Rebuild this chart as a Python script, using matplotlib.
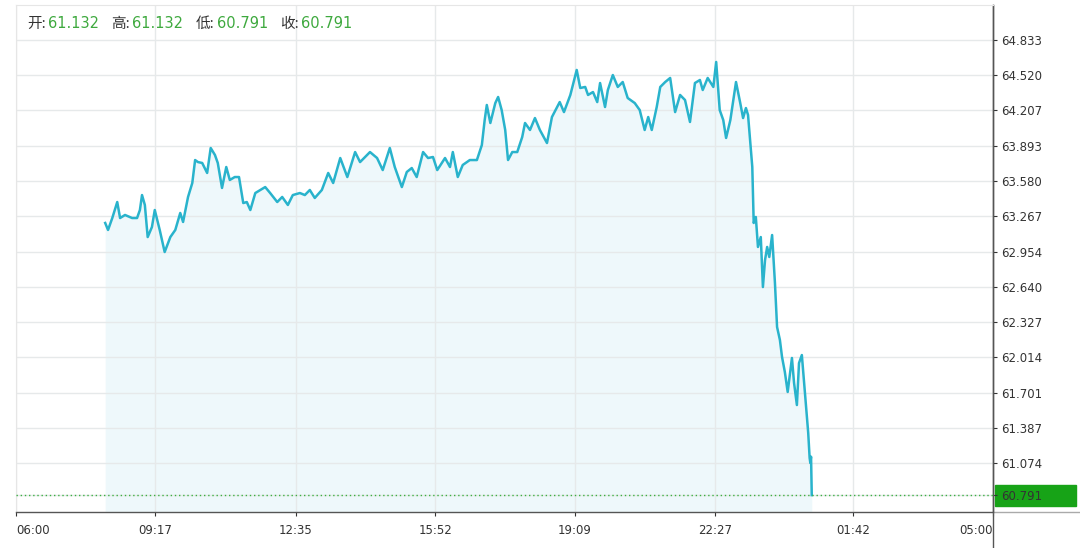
import numpy as np
import matplotlib
matplotlib.use("Agg")
import matplotlib.pyplot as plt
from matplotlib.patches import Rectangle
import matplotlib.transforms as mtransforms

plt.rcParams["font.family"] = ["DejaVu Sans", "Noto Sans CJK SC"]

# 分时数据：距 06:00 的分钟数, 价格
minutes = [
    126, 130, 136, 143, 147, 154, 164, 171, 175, 178, 182, 186, 192, 196, 203,
    210, 218, 225, 232, 236, 243, 249, 253, 257, 263, 270, 275, 281, 285, 291,
    297, 302, 309, 315, 321, 326, 331, 338, 345, 352, 359, 369, 376, 384, 391,
    401, 408, 415, 422, 432, 441, 448, 458, 468, 479, 486, 493, 500, 510, 518,
    528, 535, 545, 552, 559, 566, 575, 582, 589, 595, 606, 613, 617, 624, 631,
    641, 651, 658, 662, 665, 670, 677, 681, 686, 691, 695, 701, 708, 715, 719,
    726, 733, 740, 750, 757, 768, 774, 783, 792, 797, 804, 808, 815, 821, 825,
    832, 836, 843, 850, 857, 864, 874, 881, 888, 893, 898, 905, 910, 917, 924,
    931, 938, 945, 952, 959, 966, 970, 977, 985, 989, 994, 999, 1003, 1009, 1017,
    1023, 1027, 1031, 1034, 1040, 1042, 1045, 1048, 1052, 1055, 1058, 1061, 1064,
    1068, 1072, 1075, 1079, 1082, 1086, 1090, 1096, 1099, 1103, 1106, 1110, 1114,
    1119, 1121, 1122, 1123, 1124,
]
prices = [
    63.208, 63.146, 63.252, 63.394, 63.252, 63.279, 63.252, 63.252, 63.323, 63.456,
    63.368, 63.083, 63.172, 63.323, 63.146, 62.950, 63.083, 63.146, 63.297, 63.217,
    63.439, 63.563, 63.767, 63.749, 63.741, 63.652, 63.874, 63.812, 63.741, 63.519,
    63.705, 63.590, 63.616, 63.616, 63.385, 63.394, 63.323, 63.474, 63.501, 63.527,
    63.474, 63.394, 63.439, 63.368, 63.456, 63.474, 63.456, 63.501, 63.430, 63.501,
    63.652, 63.563, 63.785, 63.616, 63.838, 63.749, 63.794, 63.838, 63.785, 63.678,
    63.874, 63.705, 63.527, 63.661, 63.696, 63.616, 63.838, 63.785, 63.794, 63.678,
    63.785, 63.705, 63.838, 63.616, 63.723, 63.767, 63.767, 63.900, 64.122, 64.256,
    64.096, 64.273, 64.327, 64.211, 64.034, 63.767, 63.838, 63.838, 63.971, 64.096,
    64.034, 64.140, 64.034, 63.918, 64.149, 64.282, 64.193, 64.345, 64.567, 64.407,
    64.416, 64.345, 64.371, 64.282, 64.451, 64.238, 64.389, 64.522, 64.416, 64.460,
    64.318, 64.273, 64.211, 64.034, 64.149, 64.034, 64.238, 64.416, 64.460, 64.496,
    64.193, 64.345, 64.300, 64.105, 64.451, 64.478, 64.389, 64.496, 64.416, 64.638,
    64.211, 64.122, 63.963, 64.122, 64.460, 64.273, 64.140, 64.229, 64.167, 63.705,
    63.208, 63.261, 62.995, 63.083, 62.639, 62.879, 62.995, 62.906, 63.101, 62.675,
    62.284, 62.169, 62.018, 61.884, 61.707, 62.009, 61.787, 61.591, 61.964, 62.035,
    61.725, 61.343, 61.121, 61.076, 61.132, 60.791,
]
assert len(minutes) == len(prices)

x_labels = ["06:00", "09:17", "12:35", "15:52", "19:09", "22:27", "01:42", "05:00"]
y_ticks = [64.833, 64.520, 64.207, 63.893, 63.580, 63.267, 62.954, 62.640,
           62.327, 62.014, 61.701, 61.387, 61.074]
last_price = 60.791
header = [("开:", "61.132"), ("高:", "61.132"), ("低:", "60.791"), ("收:", "60.791")]

line_color = "#29b3cc"
green = "#17a317"

# 标签换算成分钟
x_ticks = []
for lab in x_labels:
    h, m = int(lab[:2]), int(lab[3:])
    x_ticks.append(((h - 6) % 24) * 60 + m)
x_ticks[-1] = 23 * 60

fig = plt.figure(figsize=(10.8, 5.48), dpi=100)
ax = fig.add_axes([16 / 1080, 1 - 512 / 548, 977 / 1080, 507 / 548])

ax.fill_between(minutes, prices, 60.0, color="#eef8fb", zorder=1, lw=0)
ax.plot(minutes, prices, color=line_color, lw=1.8, zorder=3)
ax.axhline(last_price, color="#3cb043", lw=1, ls=(0, (1, 2)), zorder=4)

ax.set_xlim(0, 1380)
ax.set_ylim(60.641, 65.144)

ax.set_xticks(x_ticks)
ax.set_xticklabels(x_labels)
tl = ax.get_xticklabels()
tl[0].set_ha("left")
tl[-1].set_ha("right")

ax.yaxis.tick_right()
ax.set_yticks(y_ticks + [last_price])
ax.set_yticklabels([f"{v:.3f}" for v in y_ticks] + [f"{last_price:.3f}"])
ax.get_yticklabels()[-1].set_color("white")

ax.tick_params(axis="both", labelsize=8.5, colors="#333333", length=3, width=0.8)
ax.tick_params(axis="y", pad=3)
ax.tick_params(axis="x", pad=6)
ax.grid(True, color="#e6e9ea", lw=1)

for s in ["top", "left"]:
    ax.spines[s].set_color("#e6e6e6")
for s in ["bottom", "right"]:
    ax.spines[s].set_color("#555555")
    ax.spines[s].set_linewidth(1)

# 最新价绿色标签
trans = mtransforms.blended_transform_factory(ax.transAxes, ax.transData)
ax.add_patch(Rectangle((1.002, last_price - 0.093), 0.083, 0.186, transform=trans,
                       color=green, clip_on=False, zorder=0))

# 坐标轴延伸
ax.plot([1, 1], [1, -0.075], transform=ax.transAxes, color="#555555", lw=1, clip_on=False)
ax.plot([1, 1.09], [0, 0], transform=ax.transAxes, color="#aaaaaa", lw=1, clip_on=False)

# 顶部开高低收
xpos = [27, 111, 196, 280]
for (name, val), xp in zip(header, xpos):
    fig.text(xp / 1080, 1 - 24 / 548, name, fontsize=10.5, color="#333333",
             va="center", family=["Noto Sans CJK SC"])
    fig.text((xp + 21) / 1080, 1 - 24 / 548, val, fontsize=10.5, color="#3ea93e",
             va="center", family=["DejaVu Sans"])

fig.savefig("out.png", dpi=100)
